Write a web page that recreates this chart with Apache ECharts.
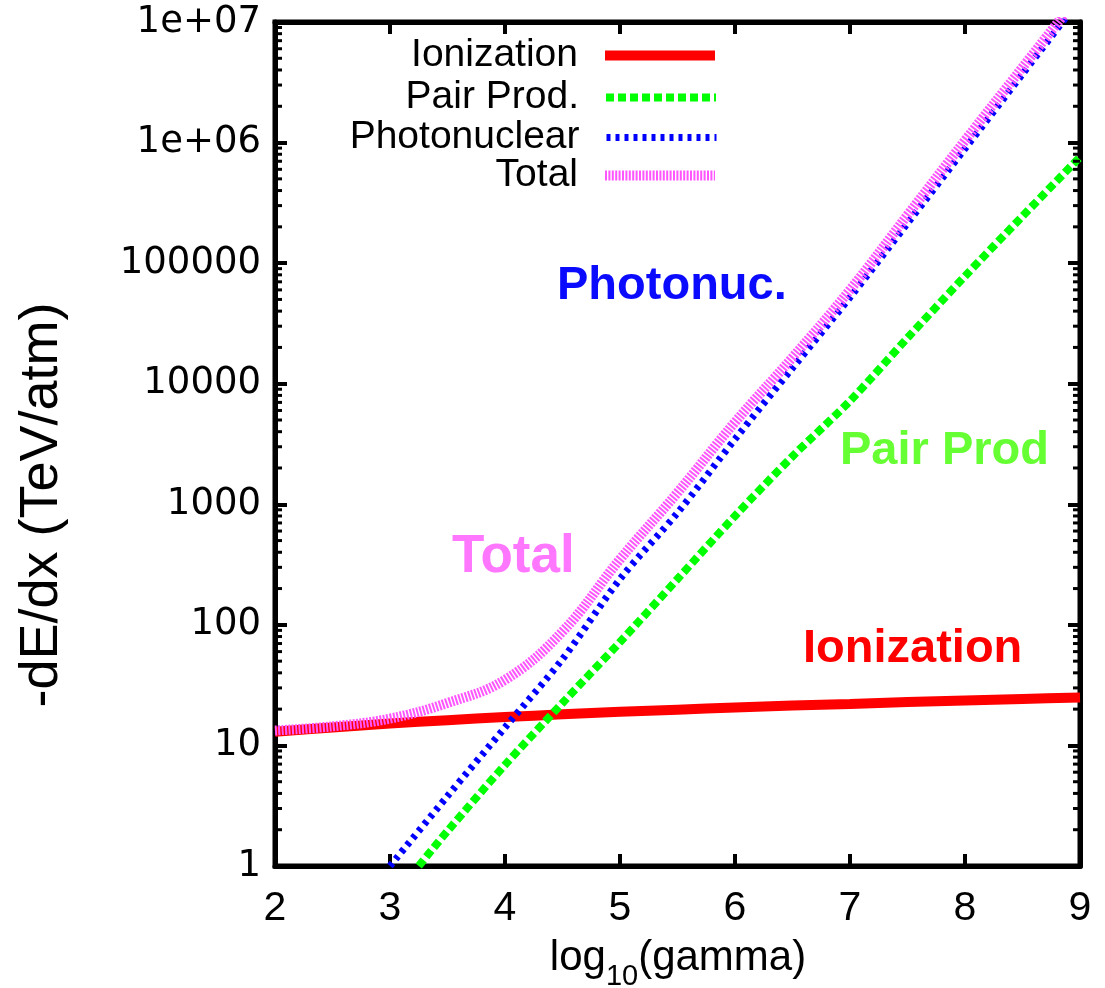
<!DOCTYPE html>
<html>
<head>
<meta charset="utf-8">
<script src="https://cdn.jsdelivr.net/npm/echarts@6/dist/echarts.min.js"></script>
<style>
html,body{margin:0;padding:0;background:#fff;}
#chart{width:1105px;height:988px;}
</style>
</head>
<body>
<div id="chart"></div>
<script>
// ---- data ----
const xTicks = [2, 3, 4, 5, 6, 7, 8, 9];
const yTickLabels = ['1', '10', '100', '1000', '10000', '100000', '1e+06', '1e+07'];
const yMinorTicks = [2,3,4,5,6,7,8,9, 20,30,40,50,60,70,80,90, 200,300,400,500,600,700,800,900,
  2000,3000,4000,5000,6000,7000,8000,9000, 20000,30000,40000,50000,60000,70000,80000,90000,
  200000,300000,400000,500000,600000,700000,800000,900000,
  2000000,3000000,4000000,5000000,6000000,7000000,8000000,9000000];

const ionX = [2, 2.5, 3, 3.5, 4, 4.5, 5, 5.5, 6, 6.5, 7, 7.5, 8, 8.5, 9];
const ionization = [13.0, 14.1, 15.2, 16.2, 17.2, 18.1, 19.0, 19.8, 20.6, 21.4, 22.1, 22.9, 23.6, 24.3, 25.0];

const pairX = [3.25, 3.5, 4, 4.5, 5, 5.5, 6, 6.5, 7, 7.5, 8, 8.5, 9];
const pairProd = [1.0, 1.95, 6.9, 22.5, 72, 240, 800, 2500, 7200, 24000, 78000, 245000, 760000];

const photoX = [3, 3.5, 4, 4.5, 5, 5.5, 6, 6.5, 7, 7.5, 8, 8.5, 9];
const photonuclear = [1.0, 3.8, 14.1, 52, 240, 850, 3470, 13500, 52000, 214000, 890000, 3700000, 15500000];

const totalX = [2, 2.5, 3, 3.5, 4, 4.5, 5, 5.5, 6, 6.5, 7, 7.5, 8, 8.5, 9];
const total = [13.3, 14.4, 16.7, 22.5, 35, 88, 350, 1250, 4800, 16500, 60000, 250000, 1040000, 4200000, 17000000];

const seriesNames = ['Ionization', 'Pair Prod.', 'Photonuclear', 'Total'];
const seriesColors = ['#ff0000', '#00ff00', '#0000ff', '#ff55ff'];

function zip(xa, ya) { return xa.map((x, i) => [x, ya[i]]); }

const chart = echarts.init(document.getElementById('chart'), null, {renderer: 'canvas'});

const GRID = {left: 275, right: 25, top: 22, bottom: 122};

const styles = [
  {width: 10, type: 'solid'},
  {width: 8, type: [8, 4]},
  {width: 7, type: [4, 5]},
  {width: 10, type: [2, 1.4]}
];

const legendTops = [56, 98, 138, 176];

const option = {
  animation: false,
  backgroundColor: '#ffffff',
  grid: Object.assign({show: true, borderColor: '#000', borderWidth: 5, backgroundColor: 'transparent',
    containLabel: false, outerBoundsMode: 'none'}, GRID),
  legend: seriesNames.map((n, i) => ({
    data: [n],
    orient: 'horizontal',
    align: 'right',
    right: 385,
    top: legendTops[i] - 20,
    itemWidth: 110,
    itemHeight: 40,
    padding: 0,
    lineStyle: {width: styles[i].width, type: styles[i].type, color: seriesColors[i]},
    itemStyle: {opacity: 0},
    textStyle: {fontFamily: 'Liberation Sans', fontSize: 39, color: '#000', padding: [0, 22, 0, 0]}
  })),
  xAxis: [{
    type: 'value', min: 2, max: 9, interval: 1,
    axisLine: {show: true, lineStyle: {color: '#000', width: 5}},
    axisTick: {show: true, inside: true, length: 12, lineStyle: {color: '#000', width: 4}},
    axisLabel: {show: true, margin: 22, fontFamily: 'Liberation Sans Narrow, Liberation Sans', fontSize: 41, color: '#000'},
    splitLine: {show: false}
  }, {
    type: 'value', min: 2, max: 9, interval: 1, position: 'top',
    axisLine: {show: true, lineStyle: {color: '#000', width: 5}},
    axisTick: {show: true, inside: true, length: 12, lineStyle: {color: '#000', width: 4}},
    axisLabel: {show: false}, splitLine: {show: false}
  }],
  yAxis: [{
    type: 'log', logBase: 10, min: 1, max: 1e7,
    axisLine: {show: true, lineStyle: {color: '#000', width: 5}},
    axisTick: {show: true, inside: true, length: 12, lineStyle: {color: '#000', width: 4}},
    axisLabel: {
      show: true, margin: 14, fontFamily: 'DejaVu Sans', fontSize: 37, color: '#000',
      formatter: function (v) {
        const k = Math.round(Math.log10(v));
        return yTickLabels[k] !== undefined ? yTickLabels[k] : '';
      }
    },
    splitLine: {show: false}
  }, {
    type: 'log', logBase: 10, min: 1, max: 1e7, position: 'right',
    axisLine: {show: true, lineStyle: {color: '#000', width: 5}},
    axisTick: {show: true, inside: true, length: 12, lineStyle: {color: '#000', width: 4}},
    axisLabel: {show: false}, splitLine: {show: false}
  }],
  series: [
    {
      name: seriesNames[0], type: 'line', data: zip(ionX, ionization), symbol: 'none', smooth: 0.3,
      lineStyle: {color: seriesColors[0], width: styles[0].width, type: styles[0].type}, itemStyle: {color: seriesColors[0]}, z: 2
    },
    {
      name: seriesNames[1], type: 'line', data: zip(pairX, pairProd), symbol: 'none', smooth: 0.3,
      lineStyle: {color: seriesColors[1], width: styles[1].width, type: styles[1].type, cap: 'butt'}, itemStyle: {color: seriesColors[1]}, z: 3
    },
    {
      name: seriesNames[2], type: 'line', data: zip(photoX, photonuclear), symbol: 'none', smooth: 0.3,
      lineStyle: {color: seriesColors[2], width: styles[2].width, type: styles[2].type, cap: 'butt'}, itemStyle: {color: seriesColors[2]}, z: 4
    },
    {
      name: seriesNames[3], type: 'line', data: zip(totalX, total), symbol: 'none', smooth: 0.4,
      lineStyle: {color: seriesColors[3], width: styles[3].width, type: styles[3].type, cap: 'butt'}, itemStyle: {color: seriesColors[3]}, z: 5
    },
    {
      name: 'minorTicks', type: 'custom', silent: true, clip: false, z: 10,
      data: yMinorTicks.map(v => [2, v]),
      renderItem: function (params, api) {
        const cs = params.coordSys;
        const y = api.coord([2, api.value(1)])[1];
        const len = 7;
        const st = {stroke: '#000', lineWidth: 3};
        return {
          type: 'group',
          children: [
            {type: 'line', shape: {x1: cs.x, y1: y, x2: cs.x + len, y2: y}, style: st},
            {type: 'line', shape: {x1: cs.x + cs.width - len, y1: y, x2: cs.x + cs.width, y2: y}, style: st}
          ]
        };
      }
    }
  ],
  graphic: [
    {type: 'text', left: 557, top: 263, style: {text: 'Photonuc.', font: 'bold 47px "Liberation Sans"', fill: '#0a0aff'}},
    {type: 'text', left: 840, top: 428, style: {text: 'Pair Prod', font: 'bold 47px "Liberation Sans"', fill: '#66ff33'}},
    {type: 'text', left: 452, top: 531, style: {text: 'Total', font: 'bold 53px "Liberation Sans"', fill: '#ff77ff'}},
    {type: 'text', left: 803, top: 626, style: {text: 'Ionization', font: 'bold 47px "Liberation Sans"', fill: '#ff0000'}},
    {
      type: 'text', x: 42, y: 505, rotation: Math.PI / 2,
      style: {text: '-dE/dx (TeV/atm)', font: '54px "Liberation Sans"', fill: '#000', align: 'center', verticalAlign: 'middle'}
    },
    {
      type: 'text', x: 678, y: 958,
      style: {
        text: '{a|log}{s|10}{a|(gamma)}', align: 'center', verticalAlign: 'middle',
        rich: {
          a: {fontFamily: 'Liberation Sans Narrow, Liberation Sans', fontSize: 42, fill: '#000', color: '#000'},
          s: {fontFamily: 'Liberation Sans Narrow, Liberation Sans', fontSize: 29, fill: '#000', color: '#000', verticalAlign: 'bottom', padding: [0, 0, -12, 0]}
        }
      }
    }
  ]
};

chart.setOption(option);
</script>
</body>
</html>
